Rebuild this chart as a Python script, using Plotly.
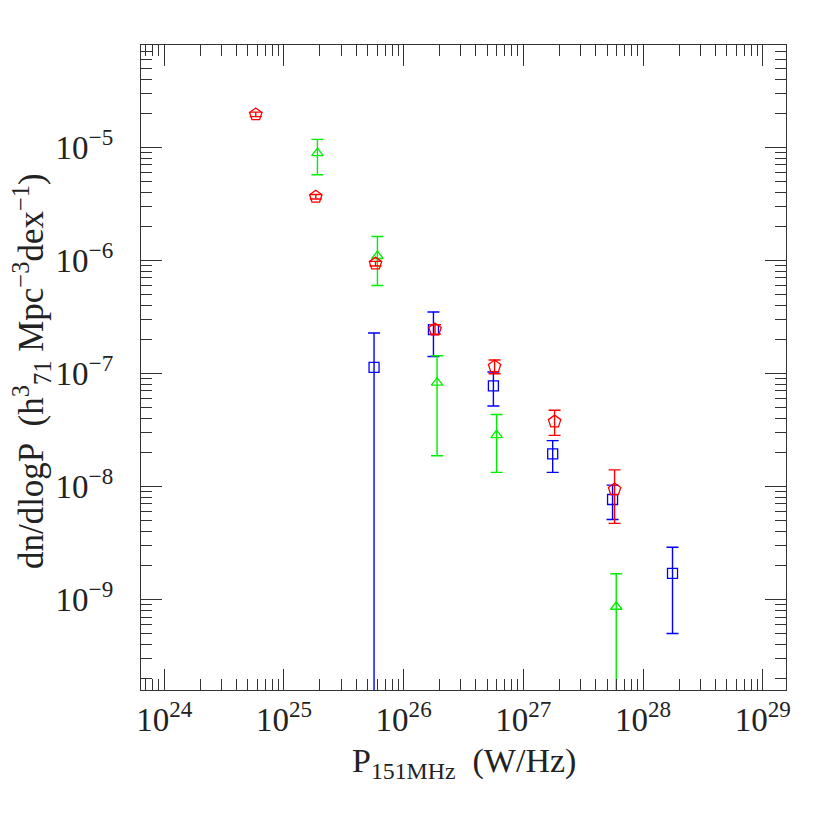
import numpy as np
import plotly.graph_objects as go

# ---- data ----
# blue squares
blue_p = [5.66e25, 1.774e26, 5.62e26, 1.758e27, 5.56e27, 1.762e28]
blue_y = [1.127e-7, 2.43e-7, 7.73e-8, 1.94e-8, 7.66e-9, 1.70e-9]
blue_hi = [2.27e-7, 3.48e-7, 1.026e-7, 2.54e-8, 1.026e-8, 2.90e-9]
blue_lo = [1e-12, 1.41e-7, 5.14e-8, 1.33e-8, 5.1e-9, 5.0e-10]

# green triangles
green_p = [1.905e25, 6.04e25, 1.901e26, 5.98e26, 5.97e27]
green_y = [8.85e-6, 1.09e-6, 8.26e-8, 2.84e-8, 8.63e-10]
green_hi = [1.17e-5, 1.62e-6, 1.43e-7, 4.32e-8, 1.69e-9]
green_lo = [5.70e-6, 5.97e-7, 1.87e-8, 1.33e-8, 1e-12]

# red pentagons
red_p = [5.82e24, 1.845e25, 5.82e25, 1.828e26, 5.75e26, 1.824e27, 5.78e27]
red_y = [1.945e-5, 3.64e-6, 9.33e-7, 2.44e-7, 1.15e-7, 3.74e-8, 9.4e-9]
red_hi = [2.04e-5, 3.81e-6, 9.77e-7, 2.69e-7, 1.31e-7, 4.71e-8, 1.40e-8]
red_lo = [1.86e-5, 3.48e-6, 8.9e-7, 2.22e-7, 9.9e-8, 2.83e-8, 4.71e-9]

x_tickvals = [1e24, 1e25, 1e26, 1e27, 1e28, 1e29]
x_ticktext = ["10<sup>24</sup>", "10<sup>25</sup>", "10<sup>26</sup>",
              "10<sup>27</sup>", "10<sup>28</sup>", "10<sup>29</sup>"]
y_tickvals = [1e-9, 1e-8, 1e-7, 1e-6, 1e-5]
y_ticktext = ["10<sup>\u22129</sup>", "10<sup>\u22128</sup>", "10<sup>\u22127</sup>",
              "10<sup>\u22126</sup>", "10<sup>\u22125</sup>"]

FONT = "Liberation Serif"

def minor_vals(k0, k1):
    return [m * 10.0 ** k for k in range(k0, k1) for m in range(2, 10)]

fig = go.Figure()

def add(px, py, hi, lo, color, symbol, size):
    py = np.array(py)
    fig.add_trace(go.Scatter(
        x=px, y=py, mode="markers",
        marker=dict(symbol=symbol, size=size, color=color,
                    line=dict(color=color, width=1.3)),
        error_y=dict(type="data", symmetric=False,
                     array=np.array(hi) - py, arrayminus=py - np.array(lo),
                     color=color, thickness=1.4, width=6),
        showlegend=False, hoverinfo="x+y"))

add(blue_p, blue_y, blue_hi, blue_lo, "#0000ff", "square-open", 10)
add(green_p, green_y, green_hi, green_lo, "#00ee00", "triangle-up-open", 10)
add(red_p, red_y, red_hi, red_lo, "#ff0000", "pentagon-open", 13)

axis_common = dict(
    type="log", showgrid=False, zeroline=False,
    showline=True, linecolor="#333333", linewidth=1.4, mirror="allticks",
    ticks="inside", ticklen=21, tickwidth=1.2, tickcolor="#333333",
    tickfont=dict(family=FONT, size=33, color="#222222"),
)

# plot area in the page: x 141..786, y 45..690 (page body adds 8px offset)
fig.update_layout(
    width=830, height=830,
    margin=dict(l=133, r=52, t=37, b=148),
    paper_bgcolor="white", plot_bgcolor="white",
    xaxis=dict(axis_common, range=[23.806, 29.194],
               tickmode="array", tickvals=x_tickvals, ticktext=x_ticktext,
               ticklabelstandoff=0,
               minor=dict(ticks="inside", ticklen=11, tickwidth=1.2,
                          tickcolor="#333333", tickvals=minor_vals(23, 30),
                          showgrid=False)),
    yaxis=dict(axis_common, range=[-9.8, -4.097],
               tickmode="array", tickvals=y_tickvals, ticktext=y_ticktext,
               ticklabelstandoff=20,
               minor=dict(ticks="inside", ticklen=11, tickwidth=1.2,
                          tickcolor="#333333", tickvals=minor_vals(-10, -4),
                          showgrid=False)),
    annotations=[
        dict(text="P<sub>151MHz</sub>  (W/Hz)", xref="paper", yref="paper",
             x=0.5, y=-0.113, xanchor="center", yanchor="middle",
             showarrow=False, font=dict(family=FONT, size=34, color="#222222")),
        dict(text="dn/dlogP  (h<sup>3</sup><sub>71</sub> Mpc<sup>\u22123</sup>dex<sup>\u22121</sup>)",
             xref="paper", yref="paper", x=-0.17, y=0.495,
             xanchor="center", yanchor="middle", textangle=-90,
             showarrow=False, font=dict(family=FONT, size=35, color="#222222")),
    ],
)

fig.write_html("out.html")
